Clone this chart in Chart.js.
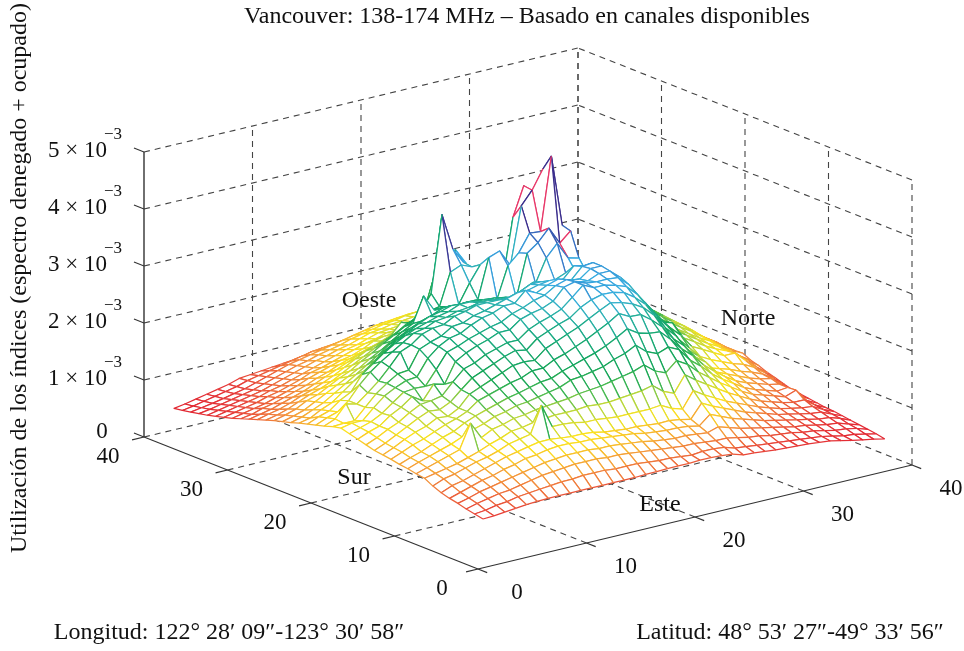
<!DOCTYPE html>
<html><head><meta charset="utf-8">
<style>html,body{margin:0;padding:0;background:#fff}canvas{display:block}</style>
<script src="https://cdn.jsdelivr.net/npm/chart.js@4"></script></head>
<body><canvas id="c" width="964" height="651"></canvas>
<script>
const title = "Vancouver: 138-174 MHz – Basado en canales disponibles";
const yTitle = "Utilización de los índices (espectro denegado + ocupado)";
const lonLabel = "Longitud: 122° 28′ 09″-123° 30′ 58″";
const latLabel = "Latitud: 48° 53′ 27″-49° 33′ 56″";
const lonTicks = [0,10,20,30,40];
const latTicks = [0,10,20,30,40];
const zTicks = [0,1,2,3,4,5];
// utilisation, units of 1e-5; rows = latitude index, columns = longitude index
const zRows = [
[67,70,73,77,80,84,90,98,100,103,105,108,110,112,116,120,124,128,125,120,116,112,108,103,99,95,90,85,80,75,70,66,62,58,55,52,49,47],
[68,72,78,82,86,92,98,102,106,110,112,116,118,120,124,128,130,132,126,128,124,120,112,108,104,100,94,90,84,78,74,70,66,62,58,55,52,50],
[70,76,82,88,92,96,102,106,112,116,118,124,128,130,134,134,136,132,126,150,130,126,122,116,110,106,100,94,88,84,78,74,70,66,62,58,56,54],
[72,78,86,92,98,102,108,110,118,122,126,130,136,140,142,148,146,150,145,145,145,140,130,124,120,116,108,100,94,88,82,78,74,70,66,62,60,58],
[74,82,88,96,102,108,114,116,124,128,134,138,142,150,154,158,160,166,164,160,168,150,144,136,130,122,116,108,100,94,88,84,78,74,70,66,64,62],
[75,84,92,100,108,114,118,122,166,136,140,146,152,158,164,172,174,176,178,176,186,176,158,148,140,132,122,114,106,100,94,88,84,78,74,70,68,66],
[76,86,96,104,112,120,124,130,136,144,150,152,150,156,166,160,176,184,190,196,200,190,172,160,150,142,130,122,114,106,100,94,88,84,80,76,74,72],
[76,88,100,108,118,124,132,136,146,150,158,160,160,165,170,185,175,186,192,218,212,204,186,172,160,150,140,130,122,114,108,100,94,90,86,82,78,74],
[76,90,102,112,120,128,136,144,150,158,164,174,180,182,190,180,200,214,224,226,224,216,200,184,172,162,150,140,130,120,114,108,100,96,92,88,82,76],
[76,90,104,114,124,132,140,146,156,162,170,180,188,198,208,215,226,230,232,240,236,226,212,198,182,172,160,150,138,128,120,112,106,102,98,94,86,78],
[76,92,106,116,126,132,186,150,158,168,176,186,196,206,214,226,232,240,238,246,240,234,222,208,194,184,170,160,146,134,126,118,112,108,102,98,90,80],
[76,92,106,116,126,130,144,152,162,170,180,192,204,214,224,234,240,244,250,248,248,240,232,218,206,194,180,166,152,140,130,124,118,112,108,102,94,82],
[76,92,106,116,124,128,144,154,164,174,185,196,212,222,230,240,246,254,252,258,250,246,240,226,216,205,188,172,158,146,137,130,124,118,112,106,98,85],
[76,90,104,114,124,128,142,154,166,178,190,204,214,228,236,248,252,262,260,262,256,250,244,232,260,212,200,180,166,152,146,136,128,122,116,110,100,88],
[76,90,104,114,122,126,138,154,168,182,192,204,212,224,236,248,256,266,264,268,258,258,250,240,230,218,206,190,186,160,150,140,134,128,122,114,102,89],
[77,90,102,112,120,122,138,156,172,190,200,214,228,240,250,262,266,274,270,268,262,258,246,238,232,222,212,204,180,166,150,146,140,134,126,118,104,90],
[77,88,100,110,118,120,136,154,174,192,206,220,236,248,258,268,272,274,276,268,262,254,246,238,230,222,216,233,189,170,152,146,142,136,130,122,106,91],
[78,86,98,108,116,118,134,154,176,196,212,228,244,256,264,272,280,292,282,268,260,252,247,238,231,221,272,367,250,190,170,150,144,140,134,126,110,93],
[78,86,96,104,112,118,134,156,180,200,218,236,252,262,272,280,285,283,282,273,258,250,245,236,231,254,280,302,220,190,170,150,146,142,136,128,114,95],
[78,84,94,102,110,116,134,158,184,208,226,246,262,276,288,300,297,292,287,282,266,247,242,233,300,282,272,274,291,193,170,152,148,144,140,130,118,97],
[79,82,92,100,108,114,134,160,188,214,236,256,272,285,305,305,303,298,290,282,275,254,236,287,307,254,231,225,262,187,170,154,150,146,142,132,120,100],
[79,84,92,100,108,115,136,165,195,224,247,268,281,290,296,298,294,291,285,278,271,263,310,305,277,238,217,190,175,165,156,152,150,146,142,132,120,100],
[78,84,90,98,106,112,126,150,180,208,235,258,277,289,296,296,292,289,282,277,270,303,324,335,377,351,221,195,175,165,155,150,148,146,142,132,120,100],
[76,82,88,96,102,108,120,142,172,200,230,257,270,284,291,296,300,303,301,296,278,324,345,333,400,402,224,200,180,165,155,148,145,142,138,130,118,100],
[70,76,88,102,118,132,148,170,189,207,228,243,259,271,284,294,300,303,303,292,273,294,314,461,433,215,200,190,170,160,150,145,142,140,136,128,116,100],
[69,74,84,96,110,122,136,156,178,198,210,226,241,254,266,277,284,282,277,266,268,289,331,335,217,210,190,180,170,160,150,145,142,140,136,128,116,100],
[67,72,80,90,102,114,126,144,160,175,189,201,215,229,241,250,254,255,259,261,255,243,226,210,205,195,185,175,165,155,148,142,140,138,134,126,114,100],
[65,70,78,86,96,106,116,132,146,160,173,184,196,207,217,220,224,232,238,238,236,225,215,200,190,180,170,162,155,148,142,138,135,132,128,122,112,98],
[64,68,74,82,90,98,108,120,132,142,152,160,168,180,194,198,200,208,213,218,220,210,200,190,178,170,162,155,148,142,136,132,130,128,124,118,110,96],
[63,66,72,78,84,92,100,110,120,128,136,146,152,160,176,192,188,182,190,196,201,192,184,172,165,158,152,146,142,136,132,128,126,124,120,114,108,95],
[62,64,70,74,80,86,92,100,108,116,122,124,126,140,152,161,168,172,178,184,189,188,185,170,156,150,145,140,136,130,126,122,120,118,116,112,106,94],
[60,62,66,70,76,80,86,92,98,104,110,116,120,130,142,150,156,160,166,172,176,178,174,164,152,146,140,136,130,126,122,118,116,114,112,110,104,93],
[58,60,64,68,72,76,80,86,92,96,102,108,114,122,132,138,144,148,154,158,162,164,160,152,144,138,134,130,126,122,118,114,112,110,108,106,102,92],
[54,56,60,64,68,72,76,80,86,90,96,100,106,114,122,128,132,136,142,146,148,148,144,140,134,130,126,122,120,116,114,110,108,106,104,102,100,92],
[50,52,56,60,64,68,72,76,80,84,90,94,100,108,122,120,122,126,128,132,134,134,130,128,124,120,118,116,114,110,110,106,104,102,102,100,98,92],
[46,50,54,58,62,66,70,76,87,86,86,90,92,98,104,106,110,112,114,116,118,118,116,114,112,110,108,106,106,104,104,102,100,100,98,98,96,91],
[43,46,50,52,56,58,60,62,64,68,72,76,80,84,88,94,96,100,102,104,104,104,102,100,100,100,100,100,102,102,104,102,100,98,96,94,92,90],
[39,42,44,46,48,50,52,53,55,57,59,61,65,70,74,80,84,91,90,90,92,92,92,93,93,93,97,100,102,103,105,104,102,100,98,96,92,90]
];
// nodes printed in red in the reference (row, column)
const redNodes = [[22,25],[23,24],[23,25],[23,23],[24,22]];

// axonometric view of the box
const O = {x:478, y:569}, U = {x:10.85, y:-2.6}, V = {x:-8.35, y:-3.3}, Zp = 0.57;
const gridStart = 2;
function proj(u,v,z){ return {x:O.x+U.x*u+V.x*v, y:O.y+U.y*u+V.y*v-Zp*z}; }

const stops = [[50,[226,40,50]],[66,[230,58,56]],[98,[243,145,60]],[128,[252,226,30]],[158,[180,214,60]],[176,[70,185,80]],[198,[20,165,85]],[248,[25,170,130]],[270,[45,178,178]],[292,[55,172,225]],[325,[55,120,200]],[375,[58,45,140]]];
function colorOf(z){
  if(z<=stops[0][0]) return `rgb(${stops[0][1]})`;
  for(let k=1;k<stops.length;k++){ if(z<=stops[k][0]){
    const t=(z-stops[k-1][0])/(stops[k][0]-stops[k-1][0]);
    return 'rgb('+stops[k][1].map((c,n)=>Math.round(stops[k-1][1][n]+(c-stops[k-1][1][n])*t)).join(',')+')';
  }}
  return `rgb(${stops[stops.length-1][1]})`;
}
const inList=(l,i,j)=>l.some(n=>n[0]===i&&n[1]===j);
const nodeColor=(i,j)=>inList(redNodes,i,j)?'rgb(232,56,105)':colorOf(zRows[i][j]);

const datasets=[];
const n=zRows.length;
for(let i=0;i<n-1;i++) for(let j=0;j<n-1;j++){
  const P=(a,b)=>proj(gridStart+a,gridStart+b,zRows[a][b]);
  const cols=[nodeColor(i,j),nodeColor(i+1,j+1),nodeColor(i,j+1),nodeColor(i,j+1)];
  datasets.push({quad:true,showLine:true,pointRadius:0,borderWidth:1.25,tension:0,borderColor:cols[0],
    borderJoinStyle:'round',
    data:[P(i,j),P(i+1,j),P(i+1,j+1),P(i,j+1),P(i,j)],
    segment:{borderColor:c=>cols[c.p0DataIndex]}});
}
const AX='#333', DASH='#444';
function ln(a,b,dash,w){ datasets.push({showLine:true,pointRadius:0,borderWidth:w||1.1,borderColor:dash?DASH:AX,borderDash:dash?[6,5]:[],data:[a,b]}); }
const MAXU=40,MAXV=40,MAXZ=500;
ln(proj(0,0,0),proj(MAXU,0,0),false,1.2);
ln(proj(0,0,0),proj(0,MAXV,0),false,1.2);
ln(proj(0,MAXV,0),proj(0,MAXV,MAXZ),false,1.4);
for(const t of lonTicks){ ln(proj(t,0,0),proj(t,-1.1,0)); ln(proj(0,t,0),proj(-1.1,t,0)); }
for(const z of zTicks){ ln(proj(0,MAXV,z*100),proj(0,MAXV+1.2,z*100)); }
for(const t of lonTicks.slice(1)){ ln(proj(t,0,0),proj(t,MAXV,0),true); ln(proj(t,MAXV,0),proj(t,MAXV,MAXZ),true); }
for(const t of latTicks.slice(1)){ ln(proj(0,t,0),proj(MAXU,t,0),true); ln(proj(MAXU,t,0),proj(MAXU,t,MAXZ),true); }
for(const z of zTicks.slice(1)){ ln(proj(0,MAXV,z*100),proj(MAXU,MAXV,z*100),true); ln(proj(MAXU,0,z*100),proj(MAXU,MAXV,z*100),true); }
ln(proj(MAXU,0,0),proj(MAXU,0,MAXZ),true);

const textPlugin={id:'texts',
  beforeDatasetDraw(chart,args){
    const ds=chart.data.datasets[args.index];
    if(!ds.quad) return;
    const pts=args.meta.data, ctx=chart.ctx;
    ctx.save();ctx.fillStyle='#fff';ctx.beginPath();
    ctx.moveTo(pts[0].x,pts[0].y);
    for(let k=1;k<4;k++) ctx.lineTo(pts[k].x,pts[k].y);
    ctx.closePath();ctx.fill();ctx.restore();
  },
  afterDraw(chart){
    const ctx=chart.ctx,sx=chart.scales.x,sy=chart.scales.y;
    const X=v=>sx.getPixelForValue(v),Y=v=>sy.getPixelForValue(v);
    ctx.save();ctx.fillStyle='#111';ctx.textBaseline='middle';
    const F='24px "Liberation Serif"',T='23px "Liberation Serif"',S='17px "Liberation Serif"';
    ctx.font=F;
    const put=(s,x,y,al)=>{ctx.textAlign=al||'center';ctx.fillText(s,X(x),Y(y));};
    put(title,527,17);
    put(lonLabel,229,633);
    put(latLabel,790,633);
    put('Oeste',369,301);put('Norte',748,319);put('Sur',354,478);put('Este',660,505);
    ctx.font=T;
    for(const t of lonTicks){ const p=proj(t,0,0); put(String(t),p.x+39,p.y+24); }
    for(const t of latTicks){ const p=proj(0,t,0); put(String(t),p.x-36,p.y+20); }
    for(const z of zTicks){
      const p=proj(0,MAXV,z*100);
      if(z===0){ put('0',p.x-42,p.y-5); continue; }
      put(z+' × 10',p.x-37,p.y-1,'right');
      ctx.font=S; put('−3',p.x-22,p.y-17,'right'); ctx.font=T;
    }
    ctx.font=F;
    ctx.translate(X(20),Y(278));ctx.rotate(-Math.PI/2);ctx.textAlign='center';
    ctx.fillText(yTitle,0,0);
    ctx.restore();
  }
};
new Chart(document.getElementById('c'),{type:'scatter',data:{datasets},plugins:[textPlugin],
 options:{responsive:false,animation:false,events:[],layout:{padding:0},
  plugins:{legend:{display:false},tooltip:{enabled:false},title:{display:false}},
  elements:{line:{tension:0}},
  scales:{x:{type:'linear',min:0,max:964,display:false},y:{type:'linear',min:0,max:651,reverse:true,display:false}}}});
</script></body></html>
